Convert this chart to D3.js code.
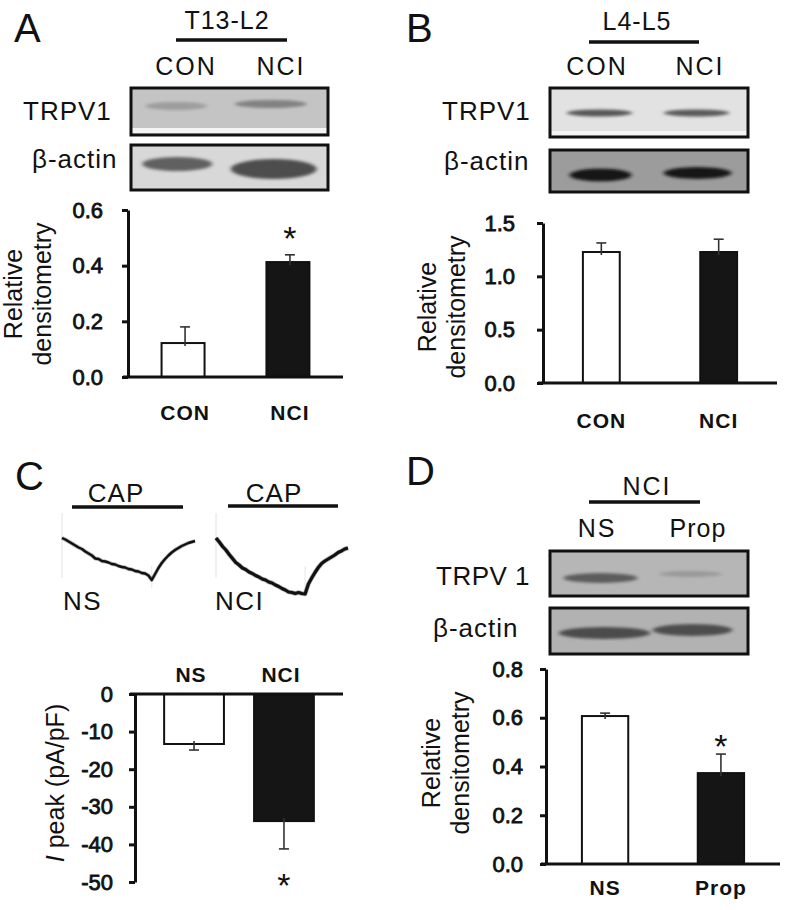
<!DOCTYPE html>
<html><head><meta charset="utf-8">
<script src="https://cdn.jsdelivr.net/npm/d3@7"></script>
<style>
body{margin:0;background:#fff}
svg{display:block}
text{font-family:"Liberation Sans",Arial,sans-serif;fill:#111}
</style>
</head><body>
<svg id="fig" width="787" height="910"></svg>
<script>
// ---------------- DATA ----------------
// Panel A: T13-L2 densitometry
const catA = ["CON", "NCI"];
const valA = [0.122, 0.413];
const errA = [0.058, 0.026];
const sigA = [false, true];
const ticksA = [0, 0.2, 0.4, 0.6];

// Panel B: L4-L5 densitometry
const catB = ["CON", "NCI"];
const valB = [1.228, 1.228];
const errB = [0.085, 0.12];
const sigB = [false, false];
const ticksB = [0, 0.5, 1.0, 1.5];

// Panel C: peak current density (pA/pF)
const catC = ["NS", "NCI"];
const valC = [-13.3, -33.8];
const errC = [1.6, 7.4];
const sigC = [false, true];
const ticksC = [0, -10, -20, -30, -40, -50];

// Panel D: NCI NS vs Prop densitometry
const catD = ["NS", "Prop"];
const valD = [0.607, 0.373];
const errD = [0.012, 0.078];
const sigD = [false, true];
const ticksD = [0, 0.2, 0.4, 0.6, 0.8];

// Western blot band intensities (0 = background, 1 = black)
const blotA_TRPV1 = [0.2, 0.34];
const blotA_actin = [0.55, 0.64];
const blotB_TRPV1 = [0.62, 0.6];
const blotB_actin = [0.88, 0.86];
const blotD_TRPV1 = [0.5, 0.16];
const blotD_actin = [0.58, 0.56];

// CAP-evoked current traces (sampled every 2.5% of trace duration, arbitrary units)
const traceTime = d3.range(0, 100.01, 2.5);
const traceNS = [0, -1.5, -3.5, -5.5, -7.5, -9.5, -11, -13.5, -15.5, -17.5, -20.5, -21, -23, -23.5, -24.5, -26,
  -26.5, -28, -29, -29.5, -31, -31.5, -33, -33.5, -35, -35.5, -37.5, -42, -36, -30, -25, -21, -17.5, -14.5,
  -12, -10, -8, -6.5, -5, -4, -3];
const traceNCI = [0, -4, -8.5, -12, -16.5, -20.5, -24.5, -27, -30, -31.5, -34, -35.5, -37.5, -39, -41, -42,
  -44, -45, -47, -48.5, -50.5, -52, -54, -54.5, -55.5, -54.5, -55.5, -56, -46, -40, -34.5, -29.5, -25.5,
  -23, -21, -19, -17, -14.5, -13, -11, -10];

// ---------------- DRAWING ----------------
const svg = d3.select("#fig");
svg.append("rect").attr("width", 787).attr("height", 910).attr("fill", "#fff");
const defs = svg.append("defs");
defs.append("filter").attr("id", "blur").attr("x", "-30%").attr("y", "-100%").attr("width", "160%").attr("height", "300%")
  .append("feGaussianBlur").attr("stdDeviation", "2.2 1.6");

function txt(x, y, s, size, opts = {}) {
  const t = svg.append("text").attr("x", x).attr("y", y).text(s)
    .attr("font-size", size)
    .attr("text-anchor", opts.anchor || "start");
  if (opts.bold) t.attr("font-weight", "bold");
  if (opts.ls) t.attr("letter-spacing", opts.ls);
  return t;
}
function hline(x1, x2, y, w) {
  svg.append("line").attr("x1", x1).attr("x2", x2).attr("y1", y).attr("y2", y)
    .attr("stroke", "#111").attr("stroke-width", w);
}

// panel letters
txt(14, 42, "A", 40);
txt(406, 42, "B", 40);
txt(15, 490, "C", 40);
txt(406, 485, "D", 40);

// --- blot helper ---
let clipId = 0;
function blot(x, y, w, h, lanes, intens, opt) {
  const g = svg.append("g");
  const id = "clip" + (clipId++);
  defs.append("clipPath").attr("id", id).append("rect").attr("x", x).attr("y", y).attr("width", w).attr("height", h);
  const inner = g.append("g").attr("clip-path", `url(#${id})`);
  inner.append("rect").attr("x", x).attr("y", y).attr("width", w).attr("height", h).attr("fill", opt.bg);
  if (opt.strip) {
    inner.append("rect").attr("x", x).attr("y", y + h - opt.strip).attr("width", w).attr("height", opt.strip - 1.5)
      .attr("fill", "#f4f4f4");
  }
  const lx = d3.scalePoint().domain(lanes).range([x, x + w]).padding(0.5);
  const shade = d3.scaleLinear().domain([0, 1]).range([opt.bg, "#000"]);
  inner.selectAll("ellipse.band").data(lanes).join("ellipse")
    .attr("cx", (d, i) => lx(d) + (opt.dx ? opt.dx[i] : 0))
    .attr("cy", (d, i) => y + opt.cy[i])
    .attr("rx", (d, i) => opt.rx[i])
    .attr("ry", (d, i) => opt.ry[i])
    .attr("fill", (d, i) => shade(intens[i]))
    .attr("filter", "url(#blur)");
  g.append("rect").attr("x", x).attr("y", y).attr("width", w).attr("height", h)
    .attr("fill", "none").attr("stroke", "#111").attr("stroke-width", 3);
}

// --- Panel A header + blots ---
txt(227, 29, "T13-L2", 25, {anchor: "middle", ls: 1});
hline(176, 287, 40, 3.5);
txt(186, 75, "CON", 25, {anchor: "middle", ls: 2});
txt(281, 75, "NCI", 25, {anchor: "middle", ls: 2});
txt(23, 120, "TRPV1", 26, {ls: 1});
txt(32, 168, "β-actin", 26, {ls: 1});
blot(131, 88, 197, 47, catA, blotA_TRPV1, {bg: "#c4c4c4", strip: 7, dx: [-4, -8], cy: [18, 16], rx: [31, 36], ry: [4, 4]});
blot(131, 145, 197, 45, catA, blotA_actin, {bg: "#d8d8d8", dx: [-3, -5], cy: [19, 24], rx: [35, 43], ry: [7, 10]});

// --- Panel B header + blots ---
txt(637, 30, "L4-L5", 25, {anchor: "middle", ls: 1});
hline(589, 699, 42, 3.5);
txt(597, 75, "CON", 25, {anchor: "middle", ls: 2});
txt(700, 75, "NCI", 25, {anchor: "middle", ls: 2});
txt(442, 120, "TRPV1", 26, {ls: 1});
txt(444, 170, "β-actin", 26, {ls: 1});
blot(550, 88, 198, 49, catB, blotB_TRPV1, {bg: "#e2e2e2", strip: 6, dx: [0, -2], cy: [25, 25], rx: [33, 33], ry: [3.5, 3.5]});
blot(550, 150, 198, 42, catB, blotB_actin, {bg: "#9c9c9c", dx: [1, -1], cy: [25, 23], rx: [31, 34], ry: [6.5, 6]});

// --- Panel D header + blots ---
txt(647, 495, "NCI", 25, {anchor: "middle", ls: 2});
hline(589, 700, 502, 3.5);
txt(597, 537, "NS", 25, {anchor: "middle", ls: 2});
txt(698, 537, "Prop", 25, {anchor: "middle", ls: 1});
txt(436, 585, "TRPV 1", 26, {ls: 0.5});
txt(433, 637, "β-actin", 26, {ls: 1});
blot(550, 551, 198, 45, catD, blotD_TRPV1, {bg: "#b6b6b6", dx: [1, -8], cy: [27, 23], rx: [37, 31], ry: [5, 3]});
blot(550, 608, 198, 46, catD, blotD_actin, {bg: "#b2b2b2", dx: [5, -6], cy: [25, 22], rx: [46, 40], ry: [6, 6]});

// --- Panel C traces ---
txt(116, 502, "CAP", 26, {anchor: "middle", ls: 1});
hline(72, 183, 507, 3.5);
txt(274, 502, "CAP", 26, {anchor: "middle", ls: 1});
hline(228, 338, 506, 3.5);
const yT = d3.scaleLinear().domain([-60, 0]).range([598, 538]);
function trace(data, x0, x1, w, dipT) {
  const xT = d3.scaleLinear().domain([0, 100]).range([x0, x1]);
  svg.append("line").attr("x1", x0).attr("x2", x0).attr("y1", 513).attr("y2", 578)
    .attr("stroke", "#e2e2e2").attr("stroke-width", 1);
  svg.append("line").attr("x1", xT(dipT)).attr("x2", xT(dipT)).attr("y1", yT(-28)).attr("y2", yT(-50))
    .attr("stroke", "#e6e6e6").attr("stroke-width", 1);
  const line = d3.line().x((d, i) => xT(traceTime[i])).y(d => yT(d));
  // soft halo to mimic recording noise
  svg.append("path").datum(data).attr("d", line).attr("fill", "none")
    .attr("stroke", "#555").attr("stroke-width", w + 1.4).attr("stroke-opacity", 0.45).attr("stroke-linejoin", "round");
  svg.append("path").datum(data).attr("d", line).attr("fill", "none")
    .attr("stroke", "#111").attr("stroke-width", w).attr("stroke-linejoin", "round");
}
trace(traceNS, 62, 195, 2.4, 67.5);
trace(traceNCI, 216, 348, 3.2, 67.5);
txt(63, 610, "NS", 26, {ls: 1.5});
txt(215, 610, "NCI", 26, {ls: 1.5});

// --- bar chart helper ---
function barChart(o) {
  const g = svg.append("g");
  const y = d3.scaleLinear().domain(o.domain).range([o.yBot, o.yTop]);
  const x = d3.scaleBand().domain(o.cats).range([o.ax, o.axEnd]).paddingInner(o.pIn).paddingOuter(o.pOut);
  const zeroY = y(0);
  // bars
  g.selectAll("rect.bar").data(o.vals).join("rect")
    .attr("x", (d, i) => x(o.cats[i]))
    .attr("width", x.bandwidth())
    .attr("y", d => Math.min(y(d), zeroY))
    .attr("height", d => Math.abs(y(d) - zeroY))
    .attr("fill", (d, i) => i === 0 ? "#fff" : "#151515")
    .attr("stroke", "#111").attr("stroke-width", 2);
  // error bars
  o.vals.forEach((v, i) => {
    const cx = x(o.cats[i]) + x.bandwidth() / 2 + (o.errDx || 0);
    const e = v >= 0 ? v + o.errs[i] : v - o.errs[i];
    const y0 = y(v) + (v >= 0 ? 3 : -3);
    g.append("line").attr("x1", cx).attr("x2", cx).attr("y1", y0).attr("y2", y(e))
      .attr("stroke", "#333").attr("stroke-width", 1.6);
    g.append("line").attr("x1", cx - 5).attr("x2", cx + 5).attr("y1", y(e)).attr("y2", y(e))
      .attr("stroke", "#333").attr("stroke-width", 1.6);
    if (o.sig[i]) {
      const sy = v >= 0 ? y(e) - o.starGap : y(e) + o.starGap;
      g.append("text").attr("x", cx).attr("y", sy).attr("text-anchor", "middle")
        .attr("font-size", 34).text("*");
    }
  });
  // y axis
  const axis = d3.axisLeft(y).tickValues(o.ticks).tickFormat(o.fmt).tickSize(6).tickSizeOuter(0).tickPadding(o.tickPad);
  const ag = g.append("g").attr("transform", `translate(${o.ax},0)`).call(axis);
  ag.select(".domain").attr("stroke", "#111").attr("stroke-width", 3);
  ag.selectAll(".tick line").attr("stroke", "#111").attr("stroke-width", 3);
  ag.selectAll(".tick text").attr("font-size", 22).attr("fill", "#111")
    .attr("font-family", "'Liberation Sans', Arial, sans-serif")
    .attr("stroke", "#111").attr("stroke-width", 0.8);
  // baseline
  g.append("line").attr("x1", o.ax - 5).attr("x2", o.axEnd).attr("y1", zeroY).attr("y2", zeroY)
    .attr("stroke", "#111").attr("stroke-width", 3);
  // category labels
  o.cats.forEach((c, i) => {
    g.append("text").attr("x", x(c) + x.bandwidth() / 2 + (o.labDx || 0)).attr("y", o.labY)
      .attr("text-anchor", "middle").attr("font-size", 21).attr("font-weight", "bold")
      .attr("letter-spacing", 1).text(c);
  });
  // y title
  const t = g.append("text").attr("transform", `translate(0,${o.titleCY}) rotate(-90)`)
    .attr("text-anchor", "middle").attr("font-size", 25);
  o.title.forEach((line, i) => {
    const ts = t.append("tspan").attr("x", 0).attr("y", o.titleX[i]);
    if (line.italic) {
      ts.append("tspan").attr("font-style", "italic").text(line.italic);
      ts.append("tspan").text(line.rest);
    } else ts.text(line);
  });
}

const fmt1 = d3.format(".1f");
const fmtInt = d => String(d);

barChart({cats: catA, vals: valA, errs: errA, sig: sigA, ticks: ticksA, fmt: fmt1, domain: [0, 0.6],
  ax: 128, axEnd: 343, yTop: 210, yBot: 377, pIn: 0.59, pOut: 0.32, tickPad: 19, labY: 420, labDx: 2,
  errDx: 2, starGap: 5, title: ["Relative", "densitometry"], titleX: [22, 51], titleCY: 294});

barChart({cats: catB, vals: valB, errs: errB, sig: sigB, ticks: ticksB, fmt: fmt1, domain: [0, 1.5],
  ax: 543, axEnd: 777, yTop: 223, yBot: 383, pIn: 0.686, pOut: 0.34, tickPad: 22, labY: 428, labDx: 0,
  errDx: 0, starGap: 9, title: ["Relative", "densitometry"], titleX: [436, 465], titleCY: 307});

barChart({cats: catC, vals: valC, errs: errC, sig: sigC, ticks: ticksC, fmt: fmtInt, domain: [-50, 0],
  ax: 135, axEnd: 343, yTop: 694, yBot: 882, pIn: 0.335, pOut: 0.324, tickPad: 16, labY: 682, labDx: -3,
  errDx: 0, starGap: 48, title: [{italic: "I", rest: " peak (pA/pF)"}], titleX: [64], titleCY: 783});

barChart({cats: catD, vals: valD, errs: errD, sig: sigD, ticks: ticksD, fmt: fmt1, domain: [0, 0.8],
  ax: 546, axEnd: 780, yTop: 669, yBot: 864, pIn: 0.6, pOut: 0.31, tickPad: 17, labY: 895, labDx: 0,
  errDx: 0, starGap: -4, title: ["Relative", "densitometry"], titleX: [440, 469], titleCY: 763});
</script>
</body></html>
